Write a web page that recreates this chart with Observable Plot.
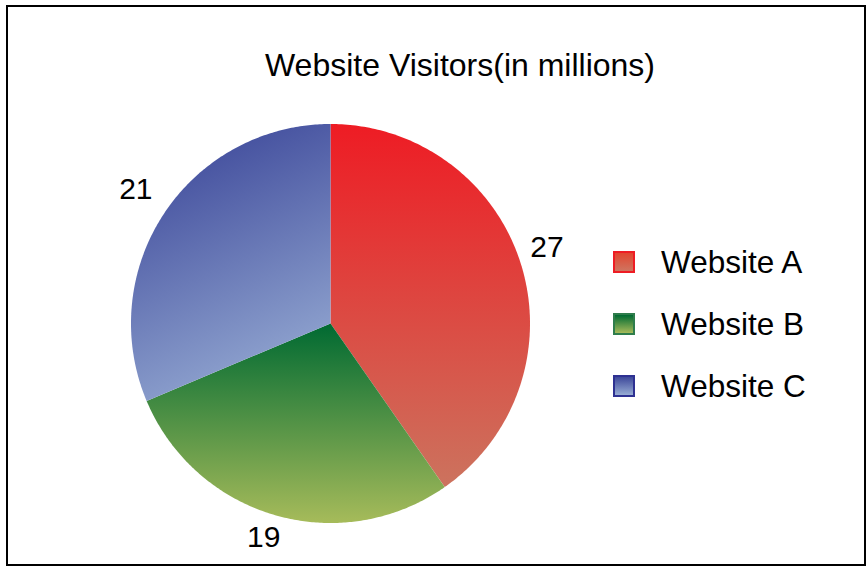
<!DOCTYPE html>
<html>
<head>
<meta charset="utf-8">
<script src="https://cdn.jsdelivr.net/npm/d3@7"></script>
<script src="https://cdn.jsdelivr.net/npm/@observablehq/plot@0.6"></script>
<style>
  html, body { margin: 0; padding: 0; background: #fff; }
  #wrap { position: relative; width: 867px; height: 566px; overflow: hidden; font-family: "Liberation Sans", Arial, sans-serif; color: #000; }
  #frame { position: absolute; left: 6px; top: 5px; width: 860px; height: 561px; box-sizing: border-box; border: 2.5px solid #000; pointer-events: none; }
  #title { position: absolute; left: 0; width: 920px; top: 45px; text-align: center; font-size: 32px; line-height: 40px; white-space: nowrap; }
  #chart { position: absolute; left: 0; top: 0; }
  .lg { position: absolute; left: 613px; height: 30px; }
  .sw { position: absolute; left: 0; top: 4px; width: 22px; height: 22px; box-sizing: border-box; border: 2.5px solid; }
  .lt { position: absolute; left: 48px; top: 0; font-size: 31.5px; line-height: 30px; white-space: nowrap; }
</style>
</head>
<body>
<div id="wrap">
  <div id="chart"></div>
  <div id="title"></div>
  <div id="legend"></div>
  <div id="frame"></div>
</div>
<script>
// ---- data ----
const sites = ["Website A", "Website B", "Website C"];
const visitors = [27, 19, 21];
const chartTitle = "Website Visitors(in millions)";

// gradient colours per slice (start/end) and legend border
const gradStart = ["#ee1c24", "#006a32", "#3d489a"];
const gradEnd = ["#cc735e", "#a6bb5a", "#97acd4"];
const legendBorder = ["#ee1c24", "#2f7d4c", "#2e3192"];
const gradIds = ["gA", "gB", "gC"];

// ---- pie geometry in data units (unit radius) ----
const arcs = d3.pie().sort(null).value(d => d)(visitors);
const slices = [];
arcs.forEach((a, i) => {
  const pts = [{site: sites[i], a: 0, r: 0}];
  const n = 180;
  for (let k = 0; k <= n; k++) {
    pts.push({site: sites[i], a: a.startAngle + (a.endAngle - a.startAngle) * k / n, r: 1});
  }
  pts.push({site: sites[i], a: 0, r: 0});
  slices.push(pts);
});
const labels = arcs.map((a, i) => ({v: visitors[i], a: (a.startAngle + a.endAngle) / 2, r: 1.153}));

const W = 867, H = 566, R = 199.5, CX = 330, CY = 323;

const plot = Plot.plot({
  width: W,
  height: H,
  margin: 0,
  x: {domain: [-CX / R, (W - CX) / R], axis: null},
  y: {domain: [-(H - CY) / R, CY / R], axis: null},
  marks: [
    ...slices.map((pts, i) => Plot.line(pts, {
      x: d => d.r * Math.sin(d.a),
      y: d => d.r * Math.cos(d.a),
      fill: `url(#${gradIds[i]})`,
      stroke: "none",
      curve: "linear"
    })),
    Plot.text(labels, {
      x: d => d.r * Math.sin(d.a),
      y: d => d.r * Math.cos(d.a),
      text: d => String(d.v),
      dx: -3,
      dy: -7,
      fontSize: 30,
      fontFamily: "Liberation Sans, Arial, sans-serif",
      fill: "#000",
      textAnchor: "middle",
      lineAnchor: "middle"
    })
  ]
});

// gradients
const ns = "http://www.w3.org/2000/svg";
const defs = document.createElementNS(ns, "defs");
const dirs = [[0.5, 0, 0.5, 1], [0.5, 0, 0.5, 1], [0.35, 0, 0.68, 1]];
gradIds.forEach((id, i) => {
  const g = document.createElementNS(ns, "linearGradient");
  g.setAttribute("id", id);
  g.setAttribute("x1", dirs[i][0]); g.setAttribute("y1", dirs[i][1]);
  g.setAttribute("x2", dirs[i][2]); g.setAttribute("y2", dirs[i][3]);
  [[0, gradStart[i]], [1, gradEnd[i]]].forEach(([o, c]) => {
    const s = document.createElementNS(ns, "stop");
    s.setAttribute("offset", o);
    s.setAttribute("stop-color", c);
    g.appendChild(s);
  });
  defs.appendChild(g);
});
plot.insertBefore(defs, plot.firstChild);
document.getElementById("chart").appendChild(plot);
document.getElementById("title").textContent = chartTitle;

// legend
const legend = document.getElementById("legend");
const legendCenters = [262, 324, 386];
sites.forEach((s, i) => {
  const item = document.createElement("div");
  item.className = "lg";
  item.style.top = (legendCenters[i] - 15) + "px";
  const sw = document.createElement("div");
  sw.className = "sw";
  sw.style.borderColor = legendBorder[i];
  sw.style.background = `linear-gradient(to bottom, ${gradStart[i]}, ${gradEnd[i]})`;
  if (i === 0) sw.style.background = "linear-gradient(to bottom, #e2452f, #cf7560)";
  const t = document.createElement("div");
  t.className = "lt";
  t.textContent = s;
  item.appendChild(sw);
  item.appendChild(t);
  legend.appendChild(item);
});
</script>
</body>
</html>
